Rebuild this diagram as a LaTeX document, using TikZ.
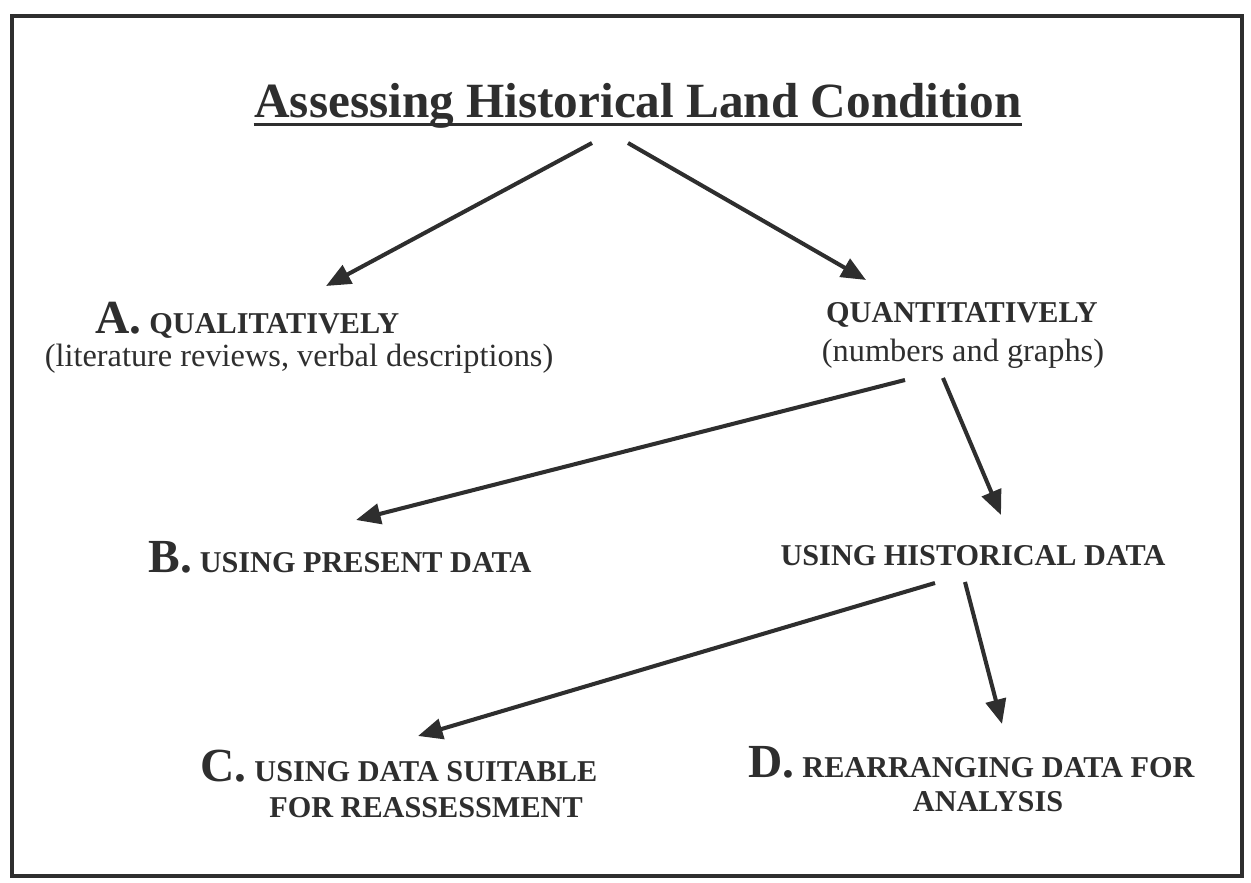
\documentclass[tikz,border=0pt]{standalone}
\usepackage{fontspec}
\setmainfont{Liberation Serif}
\usepackage{tikz}
\usetikzlibrary{arrows.meta}
\definecolor{inkgray}{HTML}{2E2E2E}
\newcommand{\bigletter}[1]{{\fontsize{13.5}{15}\selectfont\bfseries #1}}

\begin{document}
\begin{tikzpicture}[
    x=0.01cm,y=-0.01cm,
    ttl/.style    = {font=\fontsize{14}{16}\selectfont\bfseries, text=inkgray,
                     inner sep=0pt, anchor=base},
    capt/.style   = {font=\fontsize{8.6}{10}\selectfont\bfseries, text=inkgray,
                     inner sep=0pt, anchor=base},
    sub/.style    = {font=\fontsize{9.2}{11}\selectfont, text=inkgray,
                     inner sep=0pt, anchor=base},
    fleche/.style = {-{Triangle[length=7pt,width=5.8pt]}, inkgray, line width=1.15pt},
  ]

  \useasboundingbox (0,0) rectangle (1251,883);
  \draw[inkgray,line width=1.3pt] (12,16) rectangle (1242,876);

  \node[ttl] (titre) at (638,118) {Assessing Historical Land Condition};
  \draw[inkgray,line width=0.9pt] ([yshift=-1.8pt]titre.base west)
       -- ([yshift=-1.8pt]titre.base east);

  \node[capt,anchor=base west] (quali) at (95,334) {\bigletter{A.} QUALITATIVELY};
  \node[sub] (qualisub) at (299,367) {(literature reviews, verbal descriptions)};

  \node[capt] (quanti) at (962,323) {QUANTITATIVELY};
  \node[sub]  (quantisub) at (963,362) {(numbers and graphs)};

  \node[capt,anchor=base west] (present) at (148,573) {\bigletter{B.} USING PRESENT DATA};
  \node[capt] (histo) at (973,566) {USING HISTORICAL DATA};

  \node[capt,anchor=base west] (suitable) at (200,782) {\bigletter{C.} USING DATA SUITABLE};
  \node[capt] (suitable2) at (426,818) {FOR REASSESSMENT};

  \node[capt,anchor=base west] (rearr) at (748,778) {\bigletter{D.} REARRANGING DATA FOR};
  \node[capt] (rearr2) at (988,812) {ANALYSIS};

  % arrow ends
  \coordinate (tquali)  at (592,143);  \coordinate (hquali)  at (326,286);
  \coordinate (tquanti) at (628,143);  \coordinate (hquanti) at (866,280);
  \coordinate (tpres)   at (905,380);  \coordinate (hpres)   at (356,520);
  \coordinate (thisto)  at (943,378);  \coordinate (hhisto)  at (1001,515);
  \coordinate (tsuit)   at (935,583);  \coordinate (hsuit)   at (418,736);
  \coordinate (trearr)  at (965,582);  \coordinate (hrearr)  at (1002,724);

  \draw[fleche] (tquali)  -- (hquali);
  \draw[fleche] (tquanti) -- (hquanti);
  \draw[fleche] (tpres)   -- (hpres);
  \draw[fleche] (thisto)  -- (hhisto);
  \draw[fleche] (tsuit)   -- (hsuit);
  \draw[fleche] (trearr)  -- (hrearr);

\end{tikzpicture}
\end{document}
